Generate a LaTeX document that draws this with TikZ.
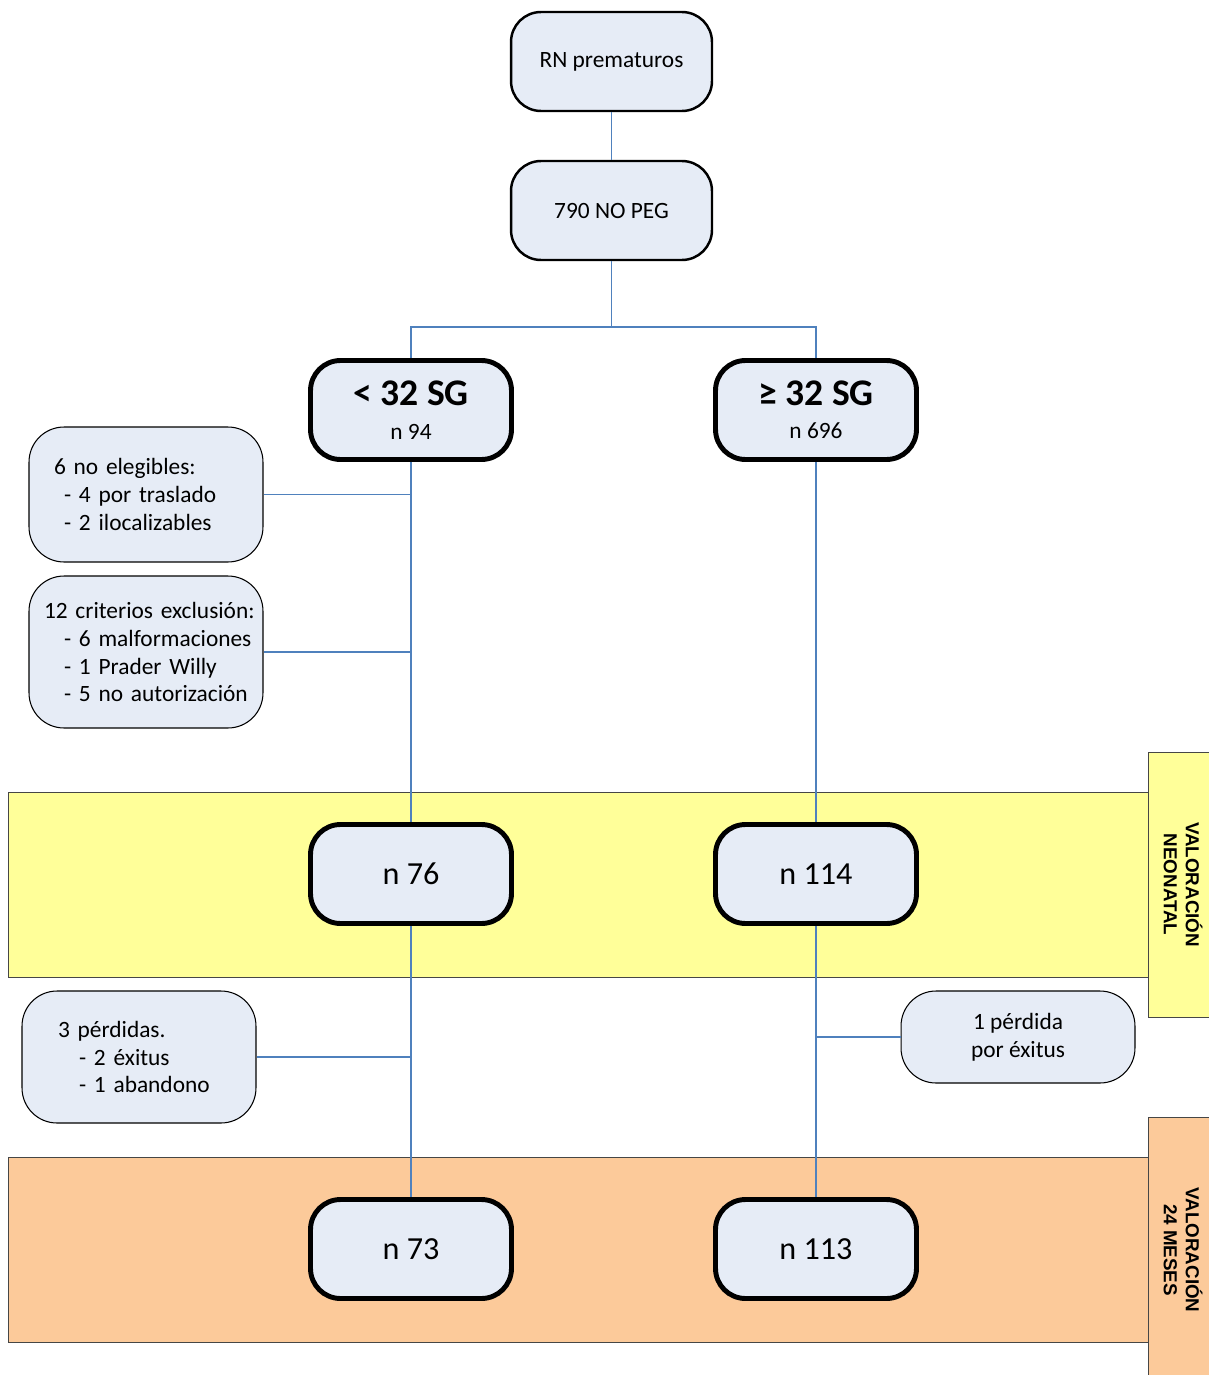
\documentclass[tikz,border=0pt]{standalone}
\usepackage{fontspec}
\setmainfont{Carlito}
\newfontfamily\tabfont{Liberation Sans}
\hyphenpenalty=10000
\exhyphenpenalty=10000
\hbadness=10000
\hfuzz=20pt
\definecolor{boxblue}{RGB}{230,236,246}
\definecolor{linkblue}{RGB}{79,129,189}
\definecolor{bandyellow}{RGB}{255,255,153}
\definecolor{bandorange}{RGB}{252,202,154}
\definecolor{bandedge}{RGB}{70,70,70}
\tikzset{
    stage/.style = {draw, fill = boxblue, rounded corners = 0.6cm, line width = 1.4pt, minimum width = 4.02cm, minimum height = 1.98cm, inner sep = 0pt, align = center, font = \fontsize{13.3}{16}\selectfont},
    group/.style = {stage, line width = 2.8pt, minimum width = 4.02cm, minimum height = 1.98cm, font = \fontsize{13.3}{21}\selectfont},
    count/.style = {group, font = \fontsize{18.3}{22}\selectfont},
    note/.style = {draw, fill = boxblue, rounded corners = 0.7cm, line width = 0.6pt, minimum width = 4.68cm, inner ysep = 0pt, align = left, font = \fontsize{13.3}{15.9}\selectfont},
    link/.style = {draw = linkblue, line width = 0.6pt},
    band/.style = {draw = bandedge, line width = 0.5pt},
    tablabel/.style = {rotate = -90, align = center, font = \tabfont\bfseries\fontsize{10.7}{12.5}\selectfont}
}
\begin{document}
\begin{tikzpicture}[x = 0.02cm, y = -0.02cm]
    \useasboundingbox (0, 0) rectangle (1209, 1375);
    % the two assessment bands, with their side tabs
    \draw[band, fill = bandyellow] (8, 792) rectangle (1148, 977);
    \fill[bandyellow] (1148, 752) rectangle (1215, 1017);
    \draw[band] (1215, 752) -- (1148, 752) -- (1148, 1017) -- (1215, 1017);
    \node[tablabel] (tabneo) at (1183, 884.5) {VALORACIÓN\\NEONATAL};
    \draw[band, fill = bandorange] (8, 1157) rectangle (1148, 1342);
    \fill[bandorange] (1148, 1117) rectangle (1215, 1380);
    \draw[band] (1215, 1117) -- (1148, 1117) -- (1148, 1380);
    \node[tablabel] (tabmes) at (1183, 1250) {VALORACIÓN\\24 MESES};
    % main flow
    \node[stage] (rn) at (611.5, 61.5) {RN prematuros};
    \node[stage] (peg) at (611.5, 210.5) {790 NO PEG};
    \node[group] (lt) at (411, 410) {{\fontsize{21.4}{24}\selectfont\bfseries < 32 SG}\\[-2pt]n 94};
    \node[group] (ge) at (816, 410) {{\fontsize{21.4}{24}\selectfont\bfseries ≥ 32 SG}\\[-2pt]n 696};
    \node[count] (nlt) at (411, 874) {n 76};
    \node[count] (nge) at (816, 874) {n 114};
    \node[count] (flt) at (411, 1249) {n 73};
    \node[count] (fge) at (816, 1249) {n 113};
    % losses on each branch
    \node[note, text width = 3.68cm, inner xsep = 0.5cm, minimum height = 2.7cm] (noelig) at (146, 494.5) {6~no~elegibles:\\\hspace*{0.2cm}-~4~por~traslado\\\hspace*{0.2cm}-~2~ilocalizables};
    \node[note, text width = 4.08cm, inner xsep = 0.3cm, minimum height = 3.04cm] (exclu) at (146, 652) {12~criterios~exclusión:\\\hspace*{0.4cm}-~6~malformaciones\\\hspace*{0.4cm}-~1~Prader~Willy\\\hspace*{0.4cm}-~5~no~autorización};
    \node[note, text width = 3.24cm, inner xsep = 0.72cm, minimum height = 2.64cm] (perdlt) at (139, 1057) {3~pérdidas.\\\hspace*{0.42cm}-~2~éxitus\\\hspace*{0.42cm}-~1~abandono};
    \node[note, align = center, minimum height = 1.84cm] (perdge) at (1018, 1037) {1 pérdida\\por éxitus};
    % connectors
    \coordinate (split) at (611.5, 327);
    \draw[link] (rn) -- (peg);
    \draw[link] (peg) -- (split);
    \draw[link] (lt.north) |- (split) -| (ge.north);
    \draw[link] (lt) -- (nlt);
    \draw[link] (ge) -- (nge);
    \draw[link] (nlt) -- (flt);
    \draw[link] (nge) -- (fge);
    \draw[link] (noelig.east) -- (noelig.east -| lt.south);
    \draw[link] (exclu.east) -- (exclu.east -| lt.south);
    \draw[link] (perdlt.east) -- (perdlt.east -| nlt.south);
    \draw[link] (perdge.west) -- (perdge.west -| nge.south);
\end{tikzpicture}
\end{document}
